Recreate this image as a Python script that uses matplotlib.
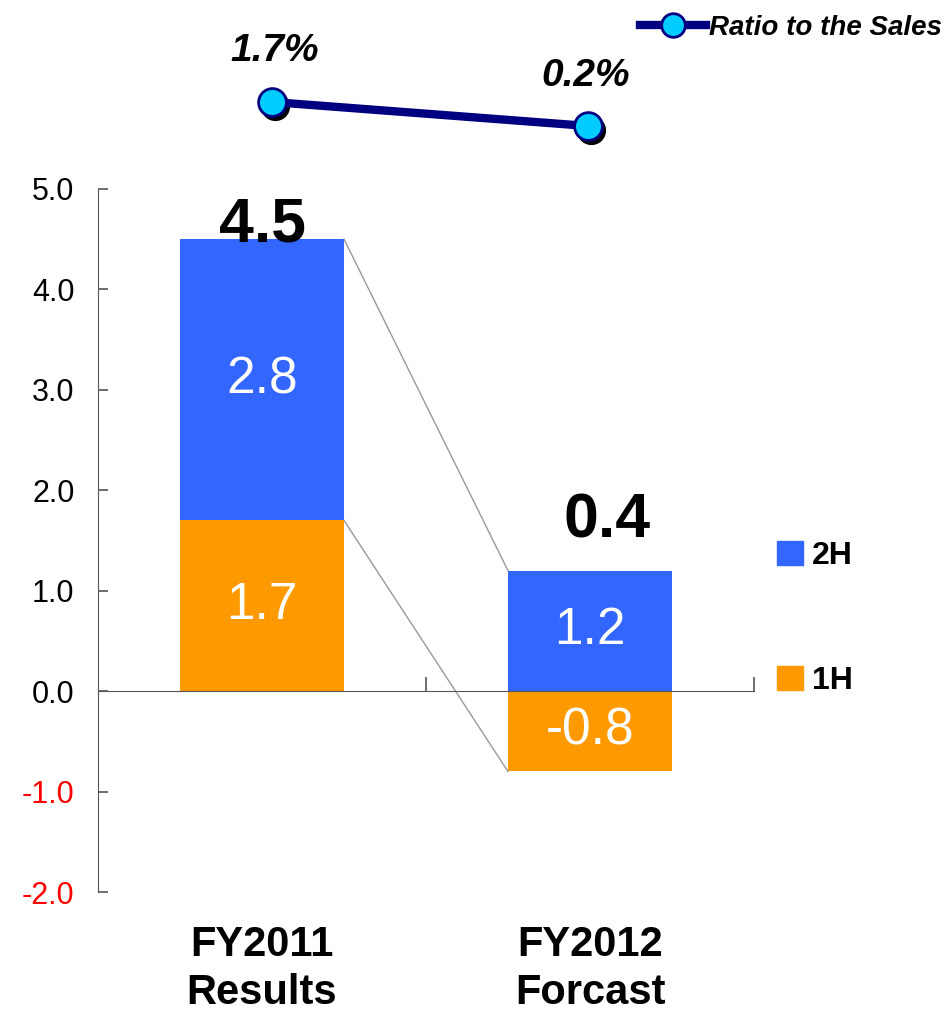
import matplotlib
matplotlib.use("Agg")
import matplotlib.pyplot as plt
from matplotlib.patches import Patch
from matplotlib.lines import Line2D
import matplotlib.transforms as mtransforms

plt.rcParams['font.family'] = ['Liberation Sans', 'DejaVu Sans']
plt.rcParams['axes.unicode_minus'] = False

categories = ["FY2011\nResults", "FY2012\nForcast"]
first_half = [1.7, -0.8]
second_half = [2.8, 1.2]
totals_label = ["4.5", "0.4"]
ratio = [1.7, 0.2]
ratio_labels = ["1.7%", "0.2%"]
yticks = [-2.0, -1.0, 0.0, 1.0, 2.0, 3.0, 4.0, 5.0]

c_2h = "#3366FF"
c_1h = "#FF9900"

W, H = 944, 1011
fig = plt.figure(figsize=(W / 100, H / 100), dpi=100)

def fx(px):
    return px / W

def fy(px):
    return 1 - px / H

ax = fig.add_axes([fx(98), fy(892), fx(754) - fx(98), fy(189) - fy(892)])
x = list(range(len(categories)))
bw = 0.5

bottoms_2h = [v if v > 0 else 0 for v in first_half]
ax.bar(x, first_half, width=bw, color=c_1h, zorder=2)
ax.bar(x, second_half, width=bw, bottom=bottoms_2h, color=c_2h, zorder=2)

# connector lines
tops = [b + s for b, s in zip(bottoms_2h, second_half)]
ax.plot([x[0] + bw / 2, x[1] - bw / 2], [tops[0], tops[1]], color="#999999", lw=1, zorder=1)
ax.plot([x[0] + bw / 2, x[1] - bw / 2], [first_half[0], first_half[1]], color="#999999", lw=1, zorder=1)

# segment labels
for i in x:
    ax.text(i, first_half[i] / 2, f"{first_half[i]:.1f}", ha="center", va="center",
            color="white", fontsize=37, zorder=3)
    ax.text(i, bottoms_2h[i] + second_half[i] / 2, f"{second_half[i]:.1f}", ha="center",
            va="center", color="white", fontsize=37, zorder=3)

# total labels
total_offsets = [(0, 10), (12, 36)]
for i in x:
    ax.annotate(totals_label[i], (i, tops[i]), xytext=total_offsets[i], textcoords="offset points",
                ha="center", va="center", fontsize=45, fontweight="bold", zorder=4,
                annotation_clip=False)

ax.set_xlim(-0.5, 1.5)
ax.set_ylim(-2.0, 5.0)
ax.set_yticks(yticks)
ax.set_yticklabels([f"{t:.1f}" for t in yticks], fontsize=22)
for lbl, t in zip(ax.get_yticklabels(), yticks):
    if t < 0:
        lbl.set_color("red")
ax.tick_params(axis="y", direction="in", length=7, width=1.2, color="#555555", pad=17)
ax.spines["top"].set_visible(False)
ax.spines["right"].set_visible(False)
ax.spines["left"].set_color("#555555")
ax.spines["bottom"].set_color("#555555")
ax.spines["bottom"].set_position(("data", 0))
ax.set_xticks([0.5, 1.5])
ax.set_xticklabels([])
ax.tick_params(axis="x", direction="in", length=10, width=1.2, color="#555555")

# category labels
trans = mtransforms.blended_transform_factory(ax.transData, fig.transFigure)
for i, c in enumerate(categories):
    fig.text(0, 0, c, transform=trans, ha="center", va="center", fontsize=30,
             fontweight="bold", linespacing=1.25).set_position((i, fy(969)))

# legend for halves
leg = fig.legend(handles=[Patch(color=c_2h, label="2H"), Patch(color=c_1h, label="1H")],
                 loc="upper left", bbox_to_anchor=(fx(777), fy(541)), frameon=False,
                 fontsize=23, handlelength=0.8, handleheight=0.8, handletextpad=0.3,
                 labelspacing=2.95, borderpad=0, borderaxespad=0)
for t in leg.get_texts():
    t.set_fontweight("bold")

# ratio line axes
ax2 = fig.add_axes([fx(98), fy(150), fx(754) - fx(98), fy(50) - fy(150)])
ax2.set_xlim(-0.5506, 1.525)
ax2.set_ylim(-1.3, 4.95)
ax2.axis("off")
shadow = mtransforms.offset_copy(ax2.transData, fig=fig, x=3, y=-4, units="dots")
ax2.plot(x, ratio, "o", ms=20, color="black", transform=shadow, zorder=2, clip_on=False)
ax2.plot(x, ratio, "-", color="#000080", lw=6, zorder=3, clip_on=False)
ax2.plot(x, ratio, "o", ms=20, mfc="#00CCFF", mec="#000080", mew=2, zorder=4, clip_on=False)
lab_off = [(2, 37), (-2, 36)]
for i in x:
    ax2.annotate(ratio_labels[i], (x[i], ratio[i]), xytext=lab_off[i], textcoords="offset points",
                 ha="center", va="center", fontsize=28, fontweight="bold", fontstyle="italic",
                 annotation_clip=False)

h = Line2D([], [], color="#000080", lw=6, marker="o", ms=17, mfc="#00CCFF", mec="#000080", mew=2)
leg2 = fig.legend(handles=[h], labels=["Ratio to the Sales"], loc="center right",
                  bbox_to_anchor=(fx(942), fy(28)), frameon=False, fontsize=20,
                  handlelength=2.4, handletextpad=0.1, borderpad=0, borderaxespad=0)
for t in leg2.get_texts():
    t.set_fontweight("bold")
    t.set_fontstyle("italic")

fig.savefig("out.png", dpi=100)
